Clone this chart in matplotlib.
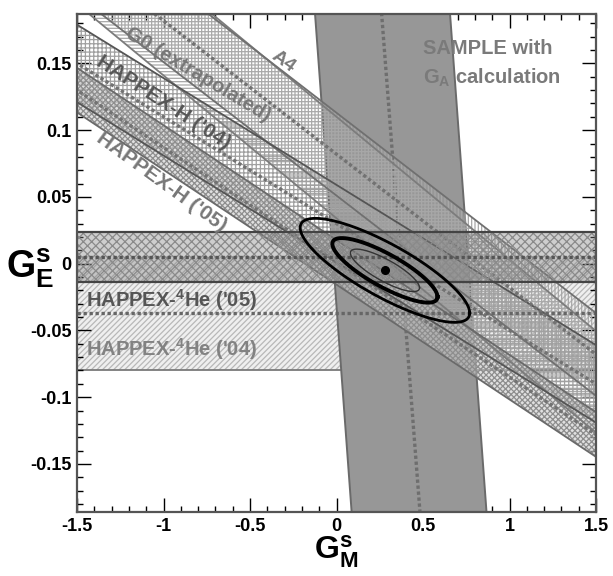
import numpy as np
import matplotlib
matplotlib.use("Agg")
import matplotlib.pyplot as plt
from matplotlib.ticker import MultipleLocator

# diagonal bands: G_E = c - eta * G_M  (+/- half width)
band_names = ["A4", "G0 (extrapolated)", "HAPPEX-H ('04)", "HAPPEX-H ('05)"]
band_eta = [0.107, 0.100, 0.080, 0.086]
band_center = [0.072, 0.082, 0.030, 0.001]
band_halfwidth = [0.038, 0.031, 0.029, 0.0167]

# horizontal 4He bands: G_E^s
he_names = ["HAPPEX-$^{\\mathbf{4}}$He ('04)", "HAPPEX-$^{\\mathbf{4}}$He ('05)"]
he_center = [-0.037, 0.0048]
he_halfwidth = [0.043, 0.0187]

# SAMPLE band: G_M = g0 + k * G_E  (low edge, centre, high edge)
sample_gm_at_zero = [-0.018, 0.372, 0.762]
sample_slope = [-0.567, -0.594, -0.565]

# combined fit
fit_gm, fit_ge = 0.28, -0.005
fit_sig_m, fit_sig_e, fit_rho = 0.20, 0.0159, -0.82
fit_levels = [1.0, 1.52, 2.45]

x_ticks = [-1.5, -1, -0.5, 0, 0.5, 1, 1.5]
y_ticks = [-0.15, -0.1, -0.05, 0, 0.05, 0.1, 0.15]

plt.rcParams['font.family'] = ['Liberation Sans', 'DejaVu Sans']
plt.rcParams['font.weight'] = 'bold'
plt.rcParams['mathtext.fontset'] = 'custom'
plt.rcParams['mathtext.rm'] = 'Liberation Sans:bold'
plt.rcParams['mathtext.bf'] = 'Liberation Sans:bold'
plt.rcParams['mathtext.it'] = 'Liberation Sans:bold'
plt.rcParams['hatch.linewidth'] = 0.9

fig = plt.figure(figsize=(6.13, 5.76), dpi=100)
ax = fig.add_axes([77 / 613, 64 / 576, 519 / 613, 498 / 576])
xlim = (-1.5, 1.5)
ylim = (-0.186, 0.187)
xs = np.array([-1.6, 1.6])

# He '04 band (bottom layer)
c, w = he_center[0], he_halfwidth[0]
ax.fill_between(xs, c - w, c + w, facecolor='#efefef', edgecolor='#b8b8b8',
                hatch='//////', linewidth=0, zorder=1)
ax.axhline(c - w, color='#7a7a7a', lw=1.3, zorder=1.5)

# SAMPLE band
ys = np.array([-0.2, 0.2])
lo = sample_gm_at_zero[0] + sample_slope[0] * ys
hi = sample_gm_at_zero[2] + sample_slope[2] * ys
ax.fill_betweenx(ys, lo, hi, facecolor='#979797', linewidth=0, zorder=2)
ax.plot(lo, ys, color='#6a6a6a', lw=1.4, zorder=2.1)
ax.plot(hi, ys, color='#6a6a6a', lw=1.4, zorder=2.1)
ax.plot(sample_gm_at_zero[1] + sample_slope[1] * ys, ys, color='#6e6e6e',
        lw=2.4, ls=(0, (1, 0.8)), zorder=2.1)

# diagonal bands
hatches = ['-----', '|||||', '++++', 'xxxxxx']
faces = ['none', 'none', 'none', (0.78, 0.78, 0.78, 0.55)]
hatch_cols = ['#a8a8a8', '#a8a8a8', '#a0a0a0', '#8e8e8e']
edge_cols = ['#7c7c7c', '#707070', '#555555', '#6a6a6a']
center_line = [False, True, True, True]
for i in range(len(band_names)):
    m, c, w = -band_eta[i], band_center[i], band_halfwidth[i]
    ax.fill_between(xs, c - w + m * xs, c + w + m * xs, facecolor=faces[i],
                    edgecolor=hatch_cols[i], hatch=hatches[i], linewidth=0,
                    zorder=3)
    ax.plot(xs, c - w + m * xs, color=edge_cols[i], lw=1.3, zorder=3.2)
    ax.plot(xs, c + w + m * xs, color=edge_cols[i], lw=1.3, zorder=3.2)
    if center_line[i]:
        ax.plot(xs, c + m * xs, color='#727272', lw=2.4, ls=(0, (1, 0.8)),
                zorder=3.3)

# He '05 band on top
c, w = he_center[1], he_halfwidth[1]
ax.fill_between(xs, c - w, c + w, facecolor=(0.5, 0.5, 0.5, 0.38),
                edgecolor='#8a8a8a', hatch='xxxx', linewidth=0, zorder=4)
ax.axhline(c + w, color='#444444', lw=1.6, zorder=4.1)
ax.axhline(c - w, color='#444444', lw=1.6, zorder=4.1)
ax.axhline(c, color='#555555', lw=2.4, ls=(0, (1, 0.8)), zorder=4.1)
ax.axhline(he_center[0], color='#666666', lw=2.4, ls=(0, (1, 0.8)), zorder=4.1)

# fit contours
t = np.linspace(0, 2 * np.pi, 300)
phi = np.arccos(fit_rho)
ell_styles = [('#333333', 1.0), ('black', 2.8), ('black', 2.0)]
for k, (col, lw) in zip(fit_levels, ell_styles):
    ax.plot(fit_gm + k * fit_sig_m * np.cos(t),
            fit_ge + k * fit_sig_e * np.cos(t + phi), color=col, lw=lw, zorder=5)
ax.plot([fit_gm], [fit_ge], 'o', color='black', ms=5.5, zorder=6)

# labels on bands
ax.text(-0.307, 0.151, "A4", color='#7a7a7a', fontsize=14, rotation=-36,
        ha='center', va='center', zorder=7)
ax.text(-0.80, 0.142, band_names[1], color='#777777', fontsize=14.5,
        rotation=-31, ha='center', va='center', zorder=7)
ax.text(-1.00, 0.121, band_names[2], color='#555555', fontsize=15,
        rotation=-33, ha='center', va='center', zorder=7)
ax.text(-1.01, 0.061, band_names[3], color='#777777', fontsize=15,
        rotation=-36, ha='center', va='center', zorder=7)
ax.text(-1.45, -0.027, he_names[1], color='#555555', fontsize=14.5,
        ha='left', va='center', zorder=7)
ax.text(-1.45, -0.064, he_names[0], color='#828282', fontsize=14.5,
        ha='left', va='center', zorder=7)
ax.text(0.50, 0.161, "SAMPLE with", color='#7a7a7a', fontsize=14.5,
        ha='left', va='center', zorder=7)
ax.text(0.50, 0.139, "G$_{\\mathbf{A}}$ calculation", color='#7a7a7a',
        fontsize=14.5, ha='left', va='center', zorder=7)

ax.set_xlim(xlim)
ax.set_ylim(ylim)
ax.set_xticks(x_ticks)
ax.set_xticklabels([f"{v:g}" for v in x_ticks])
ax.set_yticks(y_ticks)
ax.set_yticklabels([f"{v:g}" for v in y_ticks])
ax.xaxis.set_minor_locator(MultipleLocator(0.1))
ax.yaxis.set_minor_locator(MultipleLocator(0.01))
ax.tick_params(which='both', direction='in', top=True, right=True,
               labelsize=13, width=1, colors='black', pad=4)
ax.tick_params(which='major', length=10)
ax.tick_params(which='minor', length=4.5)
for s in ax.spines.values():
    s.set_linewidth(1.6)
    s.set_color('#555555')
    s.set_zorder(8)

fig.text(30 / 613, 1 - 268 / 576, r'$\mathbf{G}^{\mathbf{s}}_{\mathbf{E}}$',
         fontsize=27, ha='center', va='center')
fig.text(336 / 613, 1 - 552 / 576, r'$\mathbf{G}^{\mathbf{s}}_{\mathbf{M}}$',
         fontsize=23, ha='center', va='center')

fig.savefig('out.png', dpi=100)
